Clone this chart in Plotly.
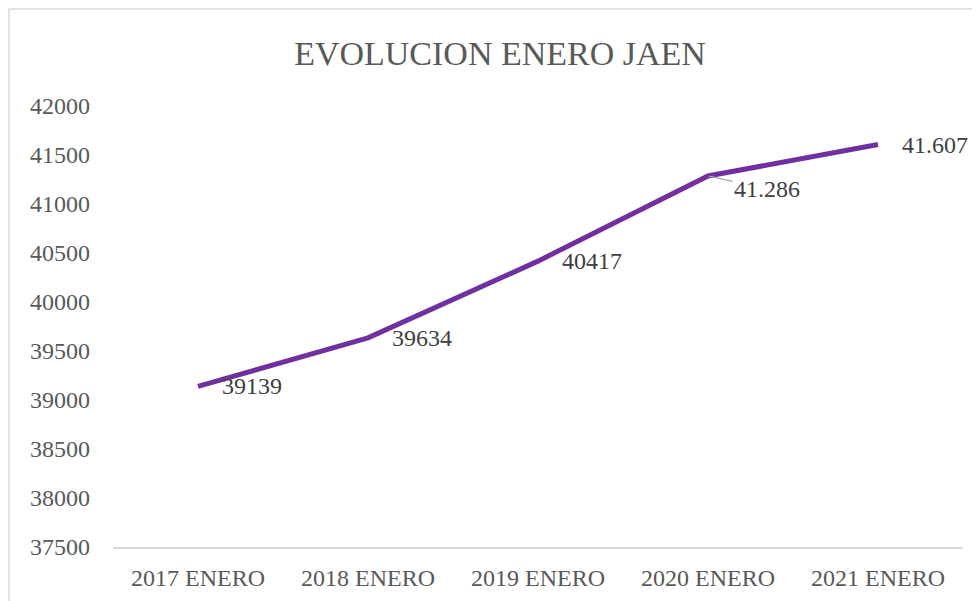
import plotly.graph_objects as go

# datos
categorias = ['2017 ENERO', '2018 ENERO', '2019 ENERO', '2020 ENERO', '2021 ENERO']
valores = [39139, 39634, 40417, 41286, 41607]
etiquetas = ['39139', '39634', '40417', '41.286', '41.607']

FUENTE = 'Liberation Serif'
GRIS = '#595959'

fig = go.Figure()
fig.add_trace(go.Scatter(
    x=categorias,
    y=valores,
    mode='lines',
    line=dict(color='#7030A0', width=5),
    hoverinfo='x+y',
    showlegend=False
))

# etiquetas de datos
for cat, val, txt in zip(categorias, valores, etiquetas):
    if txt == '41.286':
        fig.add_annotation(
            x=cat, y=val, text=txt, showarrow=True,
            ax=59, ay=13, arrowhead=0, arrowwidth=1.2, arrowcolor='#a6a6a6',
            standoff=1,
            font=dict(family=FUENTE, size=24, color='#404040')
        )
    else:
        fig.add_annotation(
            x=cat, y=val, text=txt, showarrow=False,
            xanchor='left', yanchor='middle', xshift=22,
            font=dict(family=FUENTE, size=24, color='#404040')
        )

# marco del grafico
fig.add_shape(
    type='rect', xref='paper', yref='paper',
    x0=(1 - 105) / 850, x1=1.1, y0=-0.3, y1=(539 - 1) / 441,
    line=dict(color='#d9d9d9', width=1.5), layer='below'
)

fig.update_layout(
    width=980, height=601,
    margin=dict(l=105, r=25, t=98, b=62),
    paper_bgcolor='white',
    plot_bgcolor='white',
    font=dict(family=FUENTE, color=GRIS),
    title=dict(
        text='EVOLUCION ENERO JAEN',
        x=492 / 980, xanchor='center', xref='container',
        y=1 - 45 / 601, yanchor='middle', yref='container',
        font=dict(family=FUENTE, size=34, color=GRIS)
    ),
    xaxis=dict(
        type='category',
        range=[-0.5, 4.5],
        showgrid=False,
        showline=True, linecolor='#d9d9d9', linewidth=1.5,
        ticks='',
        ticklabelstandoff=8,
        tickfont=dict(family=FUENTE, size=24, color=GRIS)
    ),
    yaxis=dict(
        range=[37500, 42000],
        tickmode='linear', tick0=37500, dtick=500,
        showgrid=False, zeroline=False, showline=False,
        ticks='',
        ticklabelstandoff=22,
        tickformat='d',
        tickfont=dict(family=FUENTE, size=24, color=GRIS)
    )
)

fig.write_html('out.html')
